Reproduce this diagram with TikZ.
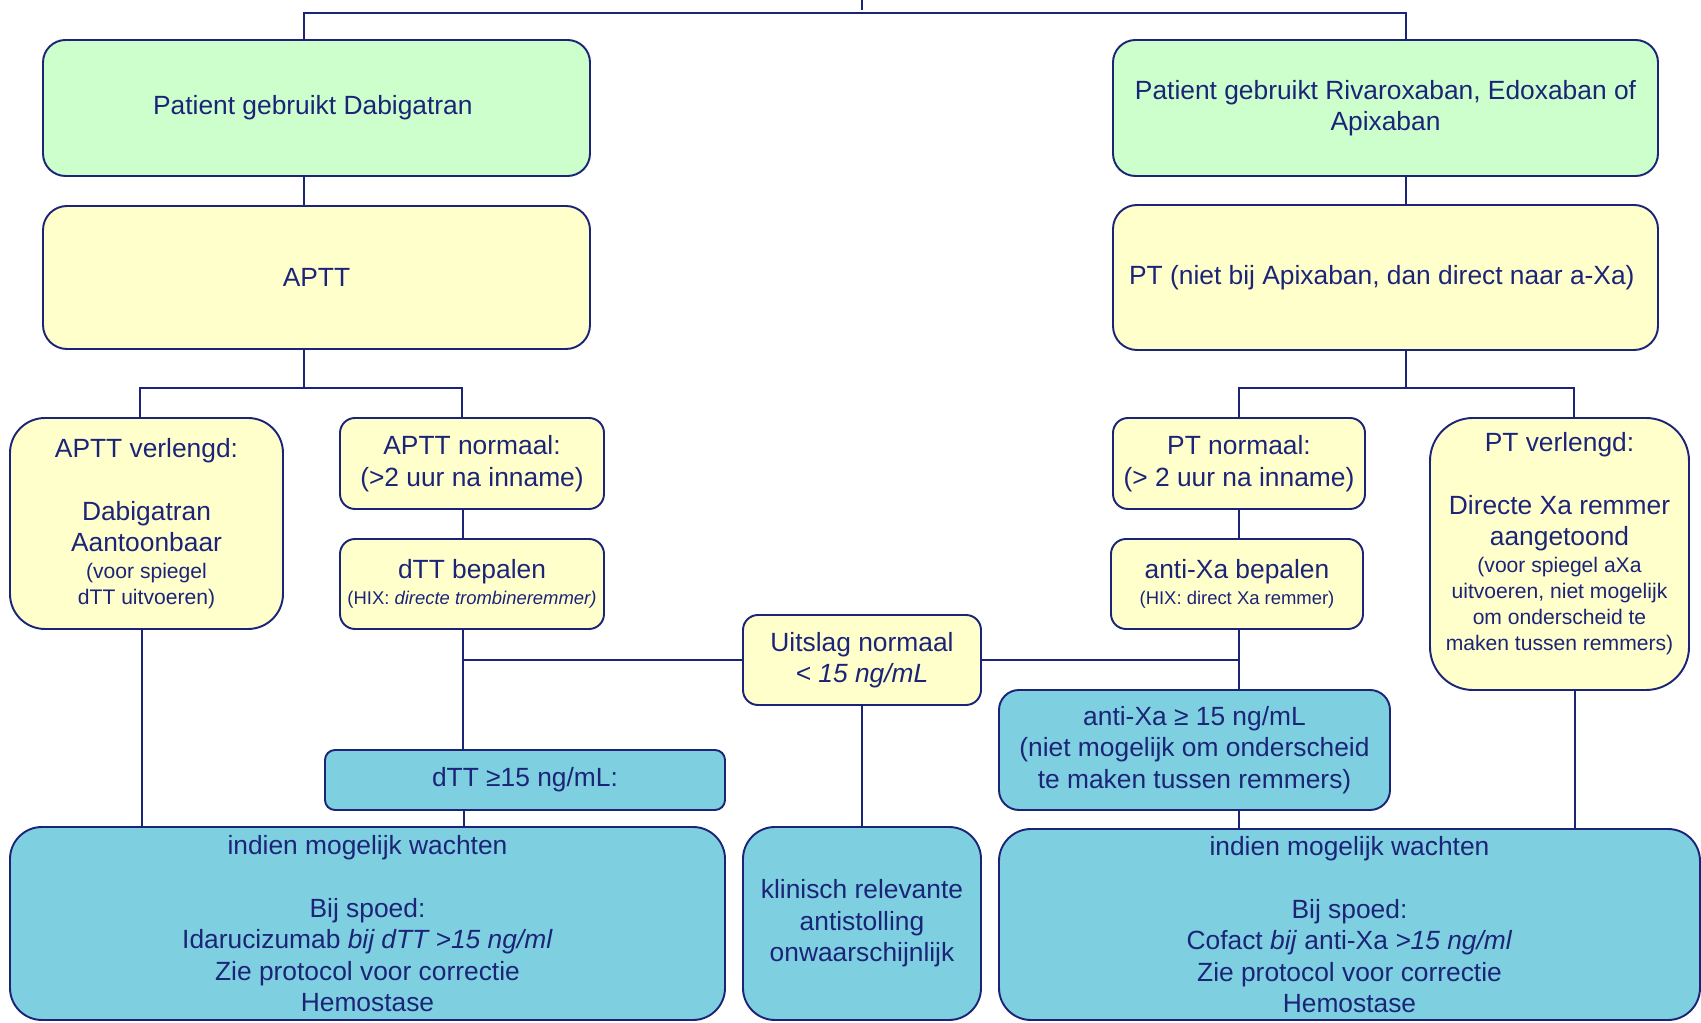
\documentclass[tikz,border=0pt]{standalone}
\usepackage{fontspec}
\setmainfont{Liberation Sans}
\definecolor{navy}{RGB}{28,36,120}
\definecolor{groen}{HTML}{CCFFCC}
\definecolor{geel}{HTML}{FFFFCC}
\definecolor{blauw}{HTML}{7ED0E1}
\newcommand{\kleintxt}{\fontsize{12}{14.6}\selectfont}
\newcommand{\hixtxt}{\fontsize{10.5}{12.6}\selectfont}

\begin{document}
\begin{tikzpicture}[
        font=\fontsize{15}{17.9}\selectfont,
        box/.style={
            rectangle, draw=navy, line width=1.1pt,
            text=navy, align=center, inner sep=0pt
        },
        lijn/.style={draw=navy, line width=1.1pt}
    ]
        \useasboundingbox (0,0) rectangle (34.02,20.46);

        % Rij 1: middel
        \node[box, fill=groen, rounded corners=0.45cm, minimum width=10.94cm, minimum height=2.72cm] (dabi) at (6.33,18.30) {
            Patient gebruikt Dabigatran
        };
        \node[box, fill=groen, rounded corners=0.45cm, minimum width=10.90cm, minimum height=2.72cm] (riva) at (27.71,18.30) {
            Patient gebruikt Rivaroxaban, Edoxaban of\\
            Apixaban
        };

        % Rij 2: eerste test
        \node[box, fill=geel, rounded corners=0.48cm, minimum width=10.94cm, minimum height=2.86cm] (aptt) at (6.33,14.91) {APTT};
        \node[box, fill=geel, rounded corners=0.48cm, minimum width=10.90cm, minimum height=2.90cm] (pt) at (27.71,14.91) {
            PT (niet bij Apixaban, dan direct naar a-Xa)
        };

        % Rij 3: uitkomst test
        \node[box, fill=geel, rounded corners=0.70cm, minimum width=5.46cm, minimum height=4.22cm] (apttlang) at (2.93,9.99) {
            APTT verlengd:\\[17.9pt]
            Dabigatran\\
            Aantoonbaar\\[-3pt]
            {\kleintxt (voor spiegel}\\[-3pt]
            {\kleintxt dTT uitvoeren)}
        };
        \node[box, fill=geel, rounded corners=0.30cm, minimum width=5.28cm, minimum height=1.82cm] (apttnorm) at (9.44,11.19) {
            APTT normaal:\\
            (>2 uur na inname)
        };
        \node[box, fill=geel, rounded corners=0.30cm, minimum width=5.04cm, minimum height=1.82cm] (ptnorm) at (24.78,11.19) {
            PT normaal:\\
            (> 2 uur na inname)
        };
        \node[box, fill=geel, rounded corners=0.86cm, minimum width=5.18cm, minimum height=5.44cm, text depth=0.5cm] (ptlang) at (31.19,9.38) {
            PT verlengd:\\[17.9pt]
            Directe Xa remmer\\
            aangetoond\\[-3pt]
            {\kleintxt (voor spiegel aXa}\\[-3pt]
            {\kleintxt uitvoeren, niet mogelijk}\\[-3pt]
            {\kleintxt om onderscheid te}\\[-3pt]
            {\kleintxt maken tussen remmers)}
        };

        % Rij 4: spiegel bepalen
        \node[box, fill=geel, rounded corners=0.30cm, minimum width=5.28cm, minimum height=1.80cm] (dtt) at (9.44,8.78) {
            dTT bepalen\\[-3.5pt]
            {\hixtxt (HIX: \textit{directe trombineremmer)}}
        };
        \node[box, fill=geel, rounded corners=0.30cm, minimum width=5.04cm, minimum height=1.80cm] (antixa) at (24.74,8.78) {
            anti-Xa bepalen\\[-3.5pt]
            {\hixtxt (HIX: direct Xa remmer)}
        };
        \node[box, fill=geel, rounded corners=0.30cm, minimum width=4.76cm, minimum height=1.80cm] (uitslag) at (17.24,7.26) {
            Uitslag normaal\\
            \textit{< 15 ng/mL}
        };

        % Rij 5: spiegel verhoogd
        \node[box, fill=blauw, rounded corners=0.20cm, minimum width=8.00cm, minimum height=1.20cm] (dtthoog) at (10.50,4.86) {dTT ≥15 ng/mL:};
        \node[box, fill=blauw, rounded corners=0.40cm, minimum width=7.82cm, minimum height=2.40cm] (antixahoog) at (23.89,5.46) {
            anti-Xa ≥ 15 ng/mL\\
            (niet mogelijk om onderscheid\\
            te maken tussen remmers)
        };

        % Rij 6: beleid
        \node[box, fill=blauw, rounded corners=0.64cm, minimum width=14.30cm, minimum height=3.86cm] (wachtlinks) at (7.35,1.99) {
            indien mogelijk wachten\\[17.9pt]
            Bij spoed:\\
            Idarucizumab \textit{bij dTT >15 ng/ml}\\
            Zie protocol voor correctie\\
            Hemostase
        };
        \node[box, fill=blauw, rounded corners=0.64cm, minimum width=4.76cm, minimum height=3.86cm] (klinisch) at (17.24,1.99) {
            klinisch relevante\\
            antistolling\\
            onwaarschijnlijk
        };
        \node[box, fill=blauw, rounded corners=0.64cm, minimum width=14.02cm, minimum height=3.82cm] (wachtrechts) at (26.99,1.97) {
            indien mogelijk wachten\\[17.9pt]
            Bij spoed:\\
            Cofact \textit{bij} anti-Xa \textit{>15 ng/ml}\\
            Zie protocol voor correctie\\
            Hemostase
        };

        % Verbindingen bovenaan
        \coordinate (boven) at (17.24,20.46);
        \coordinate (bovenend) at (17.24,20.26);
        \coordinate (bovensplit) at (17.24,20.20);
        \draw[lijn] (boven) -- (bovenend);
        \draw[lijn] (dabi.north -| 6.08,0) |- (bovensplit) -| (riva.north -| 28.12,0);
        \draw[lijn] (dabi.south -| 6.08,0) -- (aptt.north -| 6.08,0);
        \draw[lijn] (riva.south -| 28.12,0) -- (pt.north -| 28.12,0);

        % Splitsing APTT en PT
        \coordinate (apttsplit) at (6.08,12.70);
        \coordinate (ptsplit) at (28.12,12.70);
        \draw[lijn] (aptt.south -| apttsplit) -- (apttsplit);
        \draw[lijn] (apttlang.north -| 2.80,0) |- (apttsplit) -| (apttnorm.north -| 9.24,0);
        \draw[lijn] (pt.south -| ptsplit) -- (ptsplit);
        \draw[lijn] (ptnorm.north) |- (ptsplit) -| (ptlang.north -| 31.48,0);

        % Verticale lijnen
        \draw[lijn] (apttnorm.south -| 9.26,0) -- (dtt.north -| 9.26,0);
        \draw[lijn] (dtt.south -| 9.26,0) -- (dtthoog.north -| 9.26,0);
        \draw[lijn] (ptnorm.south -| 24.78,0) -- (antixa.north -| 24.78,0);
        \draw[lijn] (antixa.south -| 24.78,0) -- (antixahoog.north -| 24.78,0);
        \draw[lijn] (apttlang.south -| 2.84,0) -- (wachtlinks.north -| 2.84,0);
        \draw[lijn] (dtthoog.south -| 9.28,0) -- (wachtlinks.north -| 9.28,0);
        \draw[lijn] (uitslag.south) -- (klinisch.north);
        \draw[lijn] (antixahoog.south -| 24.78,0) -- (wachtrechts.north -| 24.78,0);
        \draw[lijn] (ptlang.south -| 31.50,0) -- (wachtrechts.north -| 31.50,0);

        % Uitslag normaal
        \coordinate (dttkruis) at (9.26,7.26);
        \coordinate (antixakruis) at (24.78,7.26);
        \draw[lijn] (dttkruis) -- (uitslag.west);
        \draw[lijn] (uitslag.east) -- (antixakruis);

    \end{tikzpicture}
\end{document}
